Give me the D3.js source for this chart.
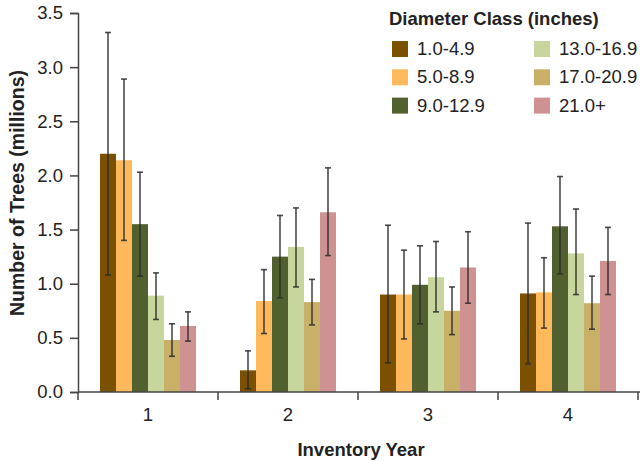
<!DOCTYPE html>
<html>
<head>
<meta charset="utf-8">
<script src="https://cdn.jsdelivr.net/npm/d3@7"></script>
<style>
  html, body { margin: 0; padding: 0; background: #fff; }
  svg text { font-family: "Liberation Sans", Arial, Helvetica, sans-serif; fill: #222; }
</style>
</head>
<body>
<svg id="chart" width="640" height="461"></svg>
<script>
// Inventory years on the x axis
const years = ["1", "2", "3", "4"];
// Diameter classes (one bar per class within each year)
const classes = ["1.0-4.9", "5.0-8.9", "9.0-12.9", "13.0-16.9", "17.0-20.9", "21.0+"];
const classColors = ["#7b5000", "#fdb95c", "#50602e", "#c6d69d", "#c9b068", "#cf9292"];

// Number of trees (millions), one array per diameter class, indexed by year
const d1_4 = [2.20, 0.20, 0.90, 0.91];
const d5_8 = [2.14, 0.84, 0.90, 0.92];
const d9_12 = [1.55, 1.25, 0.99, 1.53];
const d13_16 = [0.89, 1.34, 1.06, 1.28];
const d17_20 = [0.48, 0.83, 0.75, 0.82];
const d21p = [0.61, 1.66, 1.15, 1.21];

// Error bar bounds, same layout
const low1_4 = [1.08, 0.03, 0.27, 0.26];
const high1_4 = [3.32, 0.38, 1.54, 1.56];
const low5_8 = [1.40, 0.54, 0.49, 0.59];
const high5_8 = [2.89, 1.13, 1.31, 1.24];
const low9_12 = [1.07, 0.87, 0.63, 1.09];
const high9_12 = [2.03, 1.63, 1.35, 1.99];
const low13_16 = [0.67, 0.97, 0.74, 0.90];
const high13_16 = [1.10, 1.70, 1.39, 1.69];
const low17_20 = [0.33, 0.62, 0.53, 0.58];
const high17_20 = [0.63, 1.04, 0.97, 1.07];
const low21p = [0.47, 1.26, 0.82, 0.90];
const high21p = [0.74, 2.07, 1.48, 1.52];

const yTicks = [0, 0.5, 1.0, 1.5, 2.0, 2.5, 3.0, 3.5];

const values = [d1_4, d5_8, d9_12, d13_16, d17_20, d21p];
const lows = [low1_4, low5_8, low9_12, low13_16, low17_20, low21p];
const highs = [high1_4, high5_8, high9_12, high13_16, high17_20, high21p];

const rows = [];
years.forEach((yr, i) => {
  classes.forEach((c, j) => {
    rows.push({ year: yr, cls: c, color: classColors[j], v: values[j][i], lo: lows[j][i], hi: highs[j][i] });
  });
});

const svg = d3.select("#chart");
const margin = { left: 78, right: 2, top: 13, bottom: 69 };
const W = 640, H = 461;
const plotBottom = H - margin.bottom; // 392

const x = d3.scaleBand().domain(years).range([margin.left, 638]).padding(0);
const xInner = d3.scaleBand().domain(classes).range([22, x.bandwidth() - 22]).padding(0);
const y = d3.scaleLinear().domain([0, 3.5]).range([plotBottom, margin.top]);

// Bars
svg.append("g").selectAll("rect")
  .data(rows)
  .join("rect")
  .attr("x", d => x(d.year) + xInner(d.cls))
  .attr("width", xInner.bandwidth())
  .attr("y", d => y(d.v))
  .attr("height", d => y(0) - y(d.v))
  .attr("fill", d => d.color);

// Error bars
const eb = svg.append("g").attr("stroke", "#2b2b2b").attr("stroke-width", 1.6).attr("stroke-opacity", 0.85);
rows.forEach(d => {
  const cx = x(d.year) + xInner(d.cls) + xInner.bandwidth() / 2;
  eb.append("line").attr("x1", cx).attr("x2", cx).attr("y1", y(d.lo)).attr("y2", y(d.hi));
  eb.append("line").attr("x1", cx - 3).attr("x2", cx + 3).attr("y1", y(d.lo)).attr("y2", y(d.lo));
  eb.append("line").attr("x1", cx - 3).attr("x2", cx + 3).attr("y1", y(d.hi)).attr("y2", y(d.hi));
});

// Y axis
const yAxis = svg.append("g")
  .attr("transform", `translate(${margin.left},0)`)
  .call(d3.axisLeft(y).tickValues(yTicks).tickFormat(d3.format(".1f")).tickSize(8).tickPadding(7));
yAxis.select(".domain").attr("stroke", "#444").attr("stroke-width", 1.5);
yAxis.selectAll(".tick line").attr("stroke", "#444").attr("stroke-width", 1.5);
yAxis.selectAll(".tick text").attr("font-size", 18.5).attr("font-family", null).attr("fill", "#222");

// X axis: line with ticks at band edges, labels at band centers
const xAxisG = svg.append("g").attr("transform", `translate(0,${plotBottom})`);
xAxisG.append("line").attr("x1", margin.left).attr("x2", W).attr("y1", 0).attr("y2", 0)
  .attr("stroke", "#444").attr("stroke-width", 1.5);
const edges = years.map(d => x(d)).concat([x(years[years.length - 1]) + x.bandwidth()]);
xAxisG.selectAll("line.edge").data(edges).join("line")
  .attr("class", "edge")
  .attr("x1", d => d).attr("x2", d => d).attr("y1", 0).attr("y2", 8)
  .attr("stroke", "#444").attr("stroke-width", 1.5);
xAxisG.selectAll("text").data(years).join("text")
  .attr("x", d => x(d) + x.bandwidth() / 2)
  .attr("y", 29)
  .attr("text-anchor", "middle")
  .attr("font-size", 18.5)
  .text(d => d);

// Axis titles
svg.append("text")
  .attr("x", 361).attr("y", 456)
  .attr("text-anchor", "middle")
  .attr("font-size", 18.5).attr("font-weight", "bold")
  .text("Inventory Year");

svg.append("text")
  .attr("transform", "translate(24,193) rotate(-90)")
  .attr("text-anchor", "middle")
  .attr("font-size", 19.5).attr("font-weight", "bold")
  .text("Number of Trees (millions)");

// Legend
const legend = svg.append("g");
legend.append("text")
  .attr("x", 389).attr("y", 25)
  .attr("font-size", 18.5).attr("font-weight", "bold")
  .text("Diameter Class (inches)");
classes.forEach((c, j) => {
  const col = Math.floor(j / 3), row = j % 3;
  const gx = 392 + col * 142, gy = 41 + row * 28.3;
  legend.append("rect").attr("x", gx).attr("y", gy).attr("width", 16).attr("height", 16).attr("fill", classColors[j]);
  legend.append("text").attr("x", gx + 25).attr("y", gy + 14).attr("font-size", 18.5).text(c);
});
</script>
</body>
</html>
